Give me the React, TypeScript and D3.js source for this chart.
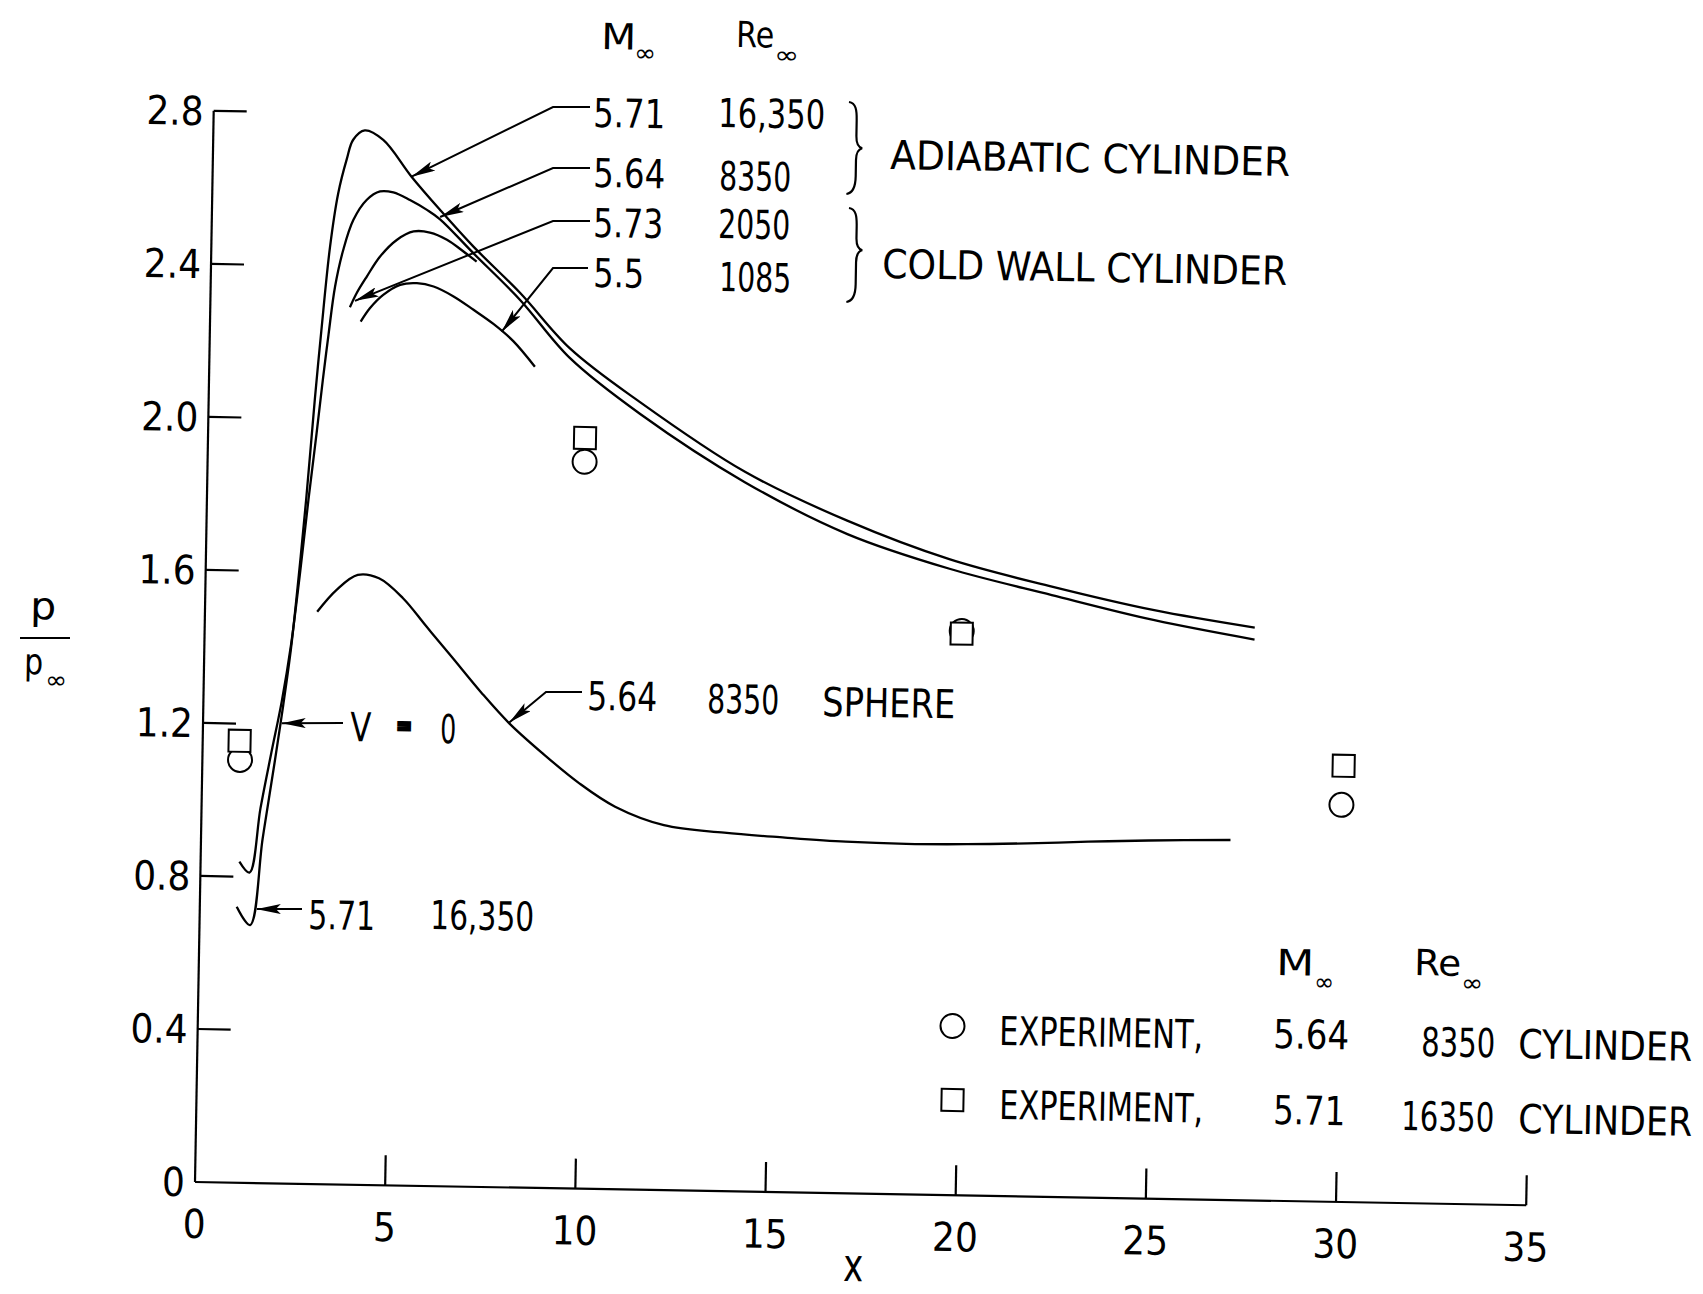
import React from 'react';
import * as d3 from 'd3';

type Pt = [number, number];

// ---------- data (x, p/p_inf) ----------
const xTickValues = [0, 5, 10, 15, 20, 25, 30, 35];
const xTickLabels = ['0', '5', '10', '15', '20', '25', '30', '35'];
const yTickValues = [0, 0.4, 0.8, 1.2, 1.6, 2.0, 2.4, 2.8];
const yTickLabels = ['0', '0.4', '0.8', '1.2', '1.6', '2.0', '2.4', '2.8'];

// Adiabatic cylinder, M=5.71, Re=16,350
const adiabatic16350: Pt[] = [
  [0.97, 0.721], [1.33, 0.674], [1.62, 0.9], [1.9, 1.1], [2.1, 1.25], [2.28, 1.4], [2.45, 1.59],
  [2.61, 1.79], [2.79, 2.05], [2.93, 2.23], [3.12, 2.45], [3.31, 2.59], [3.52, 2.68], [3.68, 2.731],
  [3.98, 2.756], [4.47, 2.732], [5.23, 2.637], [6.0, 2.551], [6.89, 2.457], [8.14, 2.338],
  [9.48, 2.195], [11.33, 2.059], [14.13, 1.881], [16.84, 1.758], [19.54, 1.662], [22.25, 1.595],
  [24.95, 1.538], [27.6, 1.497],
];
// Adiabatic cylinder, M=5.64, Re=8350
const adiabatic8350: Pt[] = [
  [1.02, 0.839], [1.29, 0.811], [1.55, 0.98], [1.8, 1.12], [2.06, 1.26], [2.28, 1.41], [2.48, 1.595],
  [2.67, 1.789], [2.85, 1.96], [2.99, 2.1], [3.12, 2.22], [3.27, 2.346], [3.47, 2.443], [3.72, 2.521],
  [4.06, 2.574], [4.41, 2.597], [4.76, 2.595], [5.2, 2.576], [5.65, 2.551], [6.0, 2.527], [6.89, 2.44],
  [8.14, 2.32], [9.48, 2.17], [11.34, 2.028], [14.13, 1.854], [16.85, 1.723], [19.55, 1.637],
  [22.25, 1.573], [24.96, 1.512], [27.6, 1.466],
];
// Cold wall cylinder, M=5.73, Re=2050
const coldWall2050: Pt[] = [
  [3.67, 2.293], [3.84, 2.33], [4.1, 2.374], [4.44, 2.427], [4.87, 2.471], [5.31, 2.494],
  [5.74, 2.492], [6.19, 2.474], [6.63, 2.444], [6.98, 2.418],
];
// Cold wall cylinder, M=5.5, Re=1085
const coldWall1085: Pt[] = [
  [3.96, 2.256], [4.2, 2.292], [4.54, 2.327], [4.98, 2.354], [5.42, 2.359], [5.86, 2.351],
  [6.39, 2.326], [6.92, 2.292], [7.45, 2.256], [7.98, 2.212], [8.56, 2.146],
];
// Sphere, M=5.64, Re=8350
const sphere8350: Pt[] = [
  [2.95, 1.496], [3.45, 1.554], [4.0, 1.594], [4.56, 1.586], [5.2, 1.535], [5.83, 1.462], [6.5, 1.385],
  [7.32, 1.29], [8.05, 1.213], [8.94, 1.136], [9.91, 1.06], [10.87, 1.0], [12.16, 0.954], [13.75, 0.937],
  [15.35, 0.927], [16.95, 0.919], [18.54, 0.916], [20.13, 0.918], [21.72, 0.923], [23.32, 0.93],
  [24.91, 0.936], [27.06, 0.941],
];
// Experiments
const expCircleX = [0.99, 9.91, 19.9, 29.96];
const expCircleY = [1.105, 1.9, 1.475, 1.038];
const expSquareX = [0.97, 9.91, 19.9, 30.0];
const expSquareY = [1.155, 1.962, 1.468, 1.14];

// annotation arrow tips (data coords)
const tipRow1: Pt = [5.23, 2.637];
const tipRow2: Pt = [6.0, 2.533];
const tipRow3: Pt = [3.8, 2.31];
const tipRow4: Pt = [7.67, 2.236];
const tipSphere: Pt = [8.05, 1.215];
const tipV0: Pt = [2.07, 1.203];
const tipBottom: Pt = [1.5, 0.716];

const FONT = "'DejaVu Sans Condensed', 'DejaVu Sans', sans-serif";

export default function App() {
  const W = 1703, H = 1294;
  const OX = 195, OY = 1182;
  const x = d3.scaleLinear().domain([0, 35]).range([OX, OX + 35 * 38.04]);
  const y = d3.scaleLinear().domain([0, 2.8]).range([OY, OY - 2.8 * 382.6]);
  const ROT = 1.0;
  const rad = (ROT * Math.PI) / 180;
  const cs = Math.cos(rad), sn = Math.sin(rad);
  const un = (sx: number, sy: number): Pt => {
    const dx = sx - OX, dy = sy - OY;
    return [OX + dx * cs + dy * sn, OY - dx * sn + dy * cs];
  };
  const P = (sx: number, sy: number) => un(sx, sy).join(',');
  const D = (p: Pt) => `${x(p[0])},${y(p[1])}`;

  const line = d3.line<Pt>().x(d => x(d[0])).y(d => y(d[1])).curve(d3.curveCatmullRom.alpha(0.5));

  const T = (key: string, sx: number, sy: number, text: string, w?: number, size = 40, extra: any = {}) => {
    const [tx, ty] = un(sx, sy);
    return (
      <text key={key} x={tx} y={ty} fontSize={size} textLength={w} lengthAdjust={w ? 'spacingAndGlyphs' : undefined} {...extra}>
        {text}
      </text>
    );
  };

  const brace = (key: string, sx: number, top: number, mid: number, bot: number) => {
    const hm = mid - top, h = bot - top;
    const [tx, ty] = un(sx, top);
    const d = `M0,0 C7,1 8,8 8,18 L8,${hm - 12} C8,${hm - 4} 10,${hm - 1} 14,${hm} C10,${hm + 1} 8,${hm + 4} 8,${hm + 12} L8,${h - 18} C8,${h - 8} 6,${h - 1} -1,${h}`;
    return <path key={key} d={d} transform={`translate(${tx},${ty})`} fill="none" stroke="#000" strokeWidth={2.2} />;
  };

  const curves = [adiabatic16350, adiabatic8350, coldWall2050, coldWall1085, sphere8350];

  return (
    <svg width={W} height={H} style={{ position: 'absolute', left: 0, top: 0, background: '#fff' }} fontFamily={FONT} fontStretch="condensed">
      <defs>
        <marker id="ah" viewBox="0 0 24 10" refX={24} refY={5} markerWidth={24} markerHeight={10} markerUnits="userSpaceOnUse" orient="auto">
          <path d="M0,0 L24,5 L0,10 L5,5 Z" fill="#000" />
        </marker>
      </defs>
      <rect x={0} y={0} width={W} height={H} fill="#fff" />
      <g transform={`rotate(${ROT} ${OX} ${OY})`} fill="#000">
        {/* axes */}
        <line x1={x(0)} y1={y(0)} x2={x(0)} y2={y(2.8)} stroke="#000" strokeWidth={2.2} />
        <line x1={x(0)} y1={y(0)} x2={x(35)} y2={y(0)} stroke="#000" strokeWidth={2.2} />
        {yTickValues.map((v, i) => (
          <g key={'yt' + i}>
            {v > 0 && <line x1={x(0)} x2={x(0) + 33} y1={y(v)} y2={y(v)} stroke="#000" strokeWidth={2.2} />}
            <text x={x(0) - 10} y={y(v)} dy="0.36em" textAnchor="end" fontSize={40}>{yTickLabels[i]}</text>
          </g>
        ))}
        {xTickValues.map((v, i) => (
          <g key={'xt' + i}>
            {v > 0 && <line x1={x(v)} x2={x(v)} y1={y(0)} y2={y(0) - 30} stroke="#000" strokeWidth={2.2} />}
            <text x={x(v)} y={y(0) + 56} textAnchor="middle" fontSize={40}>{xTickLabels[i]}</text>
          </g>
        ))}

        {/* curves */}
        {curves.map((c, i) => (
          <path key={'c' + i} d={line(c) || ''} fill="none" stroke="#000" strokeWidth={2.3} strokeLinejoin="round" />
        ))}

        {/* experimental points */}
        {expCircleX.map((v, i) => (
          <circle key={'ec' + i} cx={x(v)} cy={y(expCircleY[i])} r={12} fill="none" stroke="#000" strokeWidth={2} />
        ))}
        {expSquareX.map((v, i) => (
          <rect key={'es' + i} x={x(v) - 11} y={y(expSquareY[i]) - 11} width={22} height={22} fill="#fff" stroke="#000" strokeWidth={2} />
        ))}

        {/* leaders */}
        <g fill="none" stroke="#000" strokeWidth={2}>
          <path d={`M${P(590, 107)} L${P(553, 107)} L${D(tipRow1)}`} markerEnd="url(#ah)" />
          <path d={`M${P(590, 168)} L${P(553, 168)} L${D(tipRow2)}`} markerEnd="url(#ah)" />
          <path d={`M${P(590, 221)} L${P(553, 221)} L${D(tipRow3)}`} markerEnd="url(#ah)" />
          <path d={`M${P(588, 268)} L${P(553, 268)} L${D(tipRow4)}`} markerEnd="url(#ah)" />
          <path d={`M${P(582, 692)} L${P(546, 692)} L${D(tipSphere)}`} markerEnd="url(#ah)" />
          <path d={`M${P(343, 723)} L${D(tipV0)}`} markerEnd="url(#ah)" />
          <path d={`M${P(302, 909)} L${D(tipBottom)}`} markerEnd="url(#ah)" />
        </g>

        {/* header */}
        {T('h1', 601, 49, 'M', 35, 36)}
        {T('h2', 634, 61, '∞', 22, 24)}
        {T('h3', 736, 47, 'Re', 38, 36)}
        {T('h4', 774, 63, '∞', 25, 24)}

        {T('r1a', 593, 127, '5.71', 72)}
        {T('r1b', 718, 127, '16,350', 107)}
        {T('r2a', 593, 187, '5.64', 72)}
        {T('r2b', 719, 190, '8350', 72)}
        {T('r3a', 593, 237, '5.73', 70)}
        {T('r3b', 718, 238, '2050', 72)}
        {T('r4a', 593, 287, '5.5', 51)}
        {T('r4b', 719, 291, '1085', 72)}
        {brace('b1', 849, 102, 148, 194)}
        {brace('b2', 849, 208, 250, 302)}
        {T('ad', 890, 169, 'ADIABATIC CYLINDER', 400)}
        {T('cw', 882, 278, 'COLD WALL CYLINDER', 405)}

        {/* V = 0 */}
        {T('v1', 350, 741, 'V', 21)}
        {T('v2', 397, 733, '=', 14, 22, { stroke: '#000', strokeWidth: 4 })}
        {T('v3', 440, 743, '0', 16)}

        {/* bottom label */}
        {T('bl1', 308, 929, '5.71', 67)}
        {T('bl2', 430, 929, '16,350', 104)}

        {/* sphere label */}
        {T('s1', 587, 710, '5.64', 70)}
        {T('s2', 707, 713, '8350', 72)}
        {T('s3', 822, 716, 'SPHERE', 133)}

        {/* legend */}
        {T('l1', 1276, 975, 'M', 38, 36)}
        {T('l2', 1314, 990, '∞', 20, 24)}
        {T('l3', 1414, 975, 'Re', 47, 36)}
        {T('l4', 1461, 991, '∞', 22, 24)}
        {(() => { const [cx, cy] = un(952.5, 1026); return <circle cx={cx} cy={cy} r={12} fill="none" stroke="#000" strokeWidth={2} />; })()}
        {(() => { const [cx, cy] = un(952.5, 1100); return <rect x={cx - 11} y={cy - 11} width={22} height={22} fill="none" stroke="#000" strokeWidth={2} />; })()}
        {T('e1', 999, 1045, 'EXPERIMENT,', 204)}
        {T('e2', 1273, 1048, '5.64', 76)}
        {T('e3', 1421, 1056, '8350', 74)}
        {T('e4', 1518, 1058, 'CYLINDER', 174)}
        {T('f1', 999, 1119, 'EXPERIMENT,', 204)}
        {T('f2', 1273, 1124, '5.71', 72)}
        {T('f3', 1401, 1130, '16350', 93)}
        {T('f4', 1518, 1133, 'CYLINDER', 174)}

        {/* axis titles */}
        {T('xt', 843, 1281, 'x', 20, 46)}
        {T('yp', 30, 619, 'p', 26, 38)}
        <path d={`M${P(20, 638)} L${P(70, 638)}`} stroke="#000" strokeWidth={2.2} />
        {T('yp2', 24, 674, 'p', 19, 36)}
        {T('yp3', 45, 688, '∞', 22, 24)}
      </g>
    </svg>
  );
}
